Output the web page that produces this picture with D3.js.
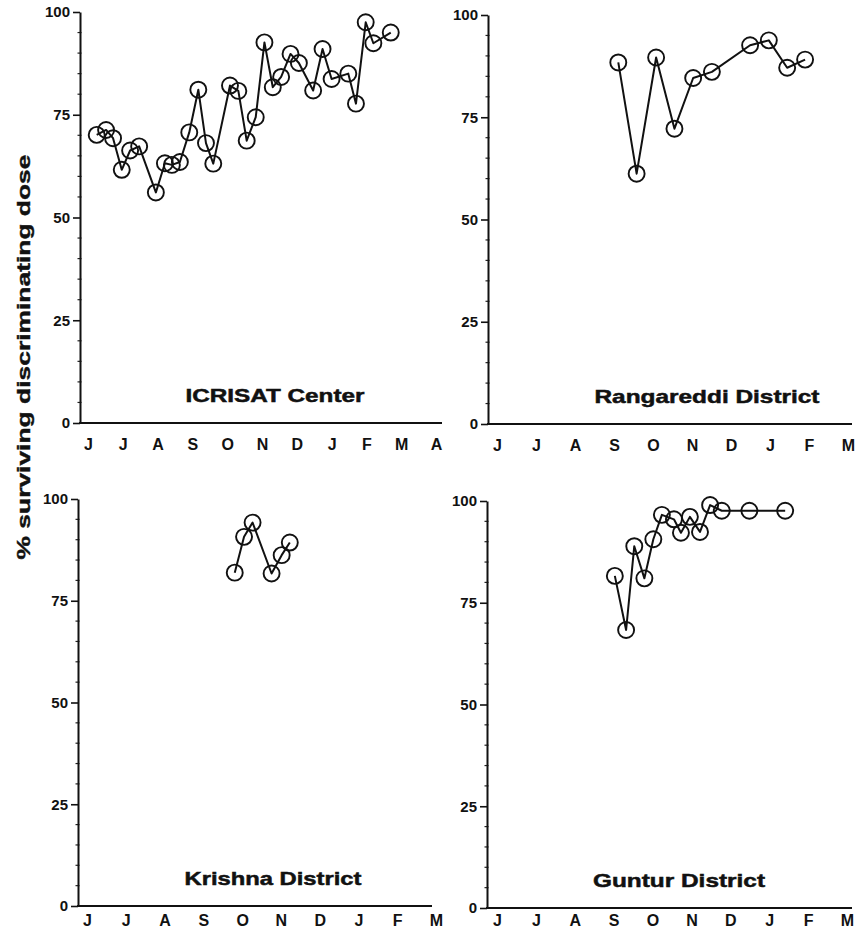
<!DOCTYPE html>
<html lang="en">
<head>
<meta charset="UTF-8">
<title>% surviving discriminating dose</title>
<script src="https://d3js.org/d3.v7.min.js"></script>
<style>
    * { margin: 0; padding: 0; }
    body { background: #fff; }
    svg { display: block; }
    text { font-family: 'Liberation Sans', Arial, Helvetica, sans-serif; font-weight: bold; fill: #111; }
</style>
</head>
<body>
<div id="chart"></div>
<script>
    // month labels along the x axes (J = June ... )
    const monthsLong = ["J", "J", "A", "S", "O", "N", "D", "J", "F", "M", "A"];
    const monthsShort = ["J", "J", "A", "S", "O", "N", "D", "J", "F", "M"];
    const yTicks = [0, 25, 50, 75, 100];

    // sampling time in months after the first "J" label, and % surviving
    const icrisatMonth = [0.25, 0.52, 0.72, 0.97, 1.21, 1.47, 1.95, 2.21, 2.41, 2.64, 2.91, 3.17, 3.39, 3.60, 4.08, 4.32,
        4.56, 4.82, 5.07, 5.31, 5.55, 5.82, 6.06, 6.47, 6.74, 7.00, 7.48, 7.70, 7.98, 8.20, 8.70];
    const icrisatPct = [70.1, 71.3, 69.3, 61.6, 66.3, 67.3, 56.1, 63.2, 62.8, 63.5, 70.7, 81.1, 68.1, 63.1, 82.1, 80.8,
        68.7, 74.4, 92.6, 81.7, 84.2, 89.8, 87.6, 80.9, 91.0, 83.7, 85.0, 77.7, 97.5, 92.4, 95.0];

    const rangareddiMonth = [3.11, 3.58, 4.08, 4.55, 5.03, 5.51, 6.49, 6.97, 7.44, 7.90];
    const rangareddiPct = [88.4, 61.2, 89.6, 72.2, 84.6, 86.1, 92.6, 93.8, 87.1, 89.1];

    const krishnaMonth = [3.81, 4.05, 4.27, 4.76, 5.02, 5.23];
    const krishnaPct = [81.9, 90.7, 94.2, 81.7, 86.2, 89.3];

    const gunturMonth = [3.03, 3.32, 3.53, 3.79, 4.02, 4.24, 4.55, 4.73, 4.96, 5.22, 5.48, 5.78, 6.49, 7.41];
    const gunturPct = [81.6, 68.3, 88.9, 81.0, 90.6, 96.6, 95.5, 92.2, 96.1, 92.4, 99.0, 97.6, 97.6, 97.6];

    const width = 859, height = 931;

    const svg = d3.select("#chart")
        .append("svg")
        .attr("width", width)
        .attr("height", height);

    // panel layout
    const panels = [
        { title: "ICRISAT Center", months: icrisatMonth, pct: icrisatPct, labels: monthsLong,
          axisX: 80, axisEnd: 442, y0: 423, y100: 12, first: 88, last: 436,
          titleX: 275, titleW: 179, labelDy: 27 },
        { title: "Rangareddi District", months: rangareddiMonth, pct: rangareddiPct, labels: monthsShort,
          axisX: 488, axisEnd: 852, y0: 424, y100: 15, first: 497, last: 848,
          titleX: 707, titleW: 225, labelDy: 27 },
        { title: "Krishna District", months: krishnaMonth, pct: krishnaPct, labels: monthsShort,
          axisX: 78, axisEnd: 432, y0: 906, y100: 499, first: 87, last: 436,
          titleX: 273, titleW: 177, labelDy: 20 },
        { title: "Guntur District", months: gunturMonth, pct: gunturPct, labels: monthsShort,
          axisX: 487, axisEnd: 852, y0: 908, y100: 501, first: 497, last: 847,
          titleX: 679, titleW: 172, labelDy: 18 }
    ];

    panels.forEach(p => {
        const x = d3.scaleLinear().domain([0, p.labels.length - 1]).range([p.first, p.last]);
        const y = d3.scaleLinear().domain([0, 100]).range([p.y0, p.y100]);
        const g = svg.append("g");

        // minor ticks every 5 %
        g.selectAll(".minor")
            .data(d3.range(5, 100, 5).filter(v => v % 25 !== 0))
            .enter()
            .append("line")
            .attr("x1", p.axisX - 2.5)
            .attr("x2", p.axisX + 1.5)
            .attr("y1", d => y(d))
            .attr("y2", d => y(d))
            .attr("stroke", "#222")
            .attr("stroke-width", 1.2);

        // y axis
        const yAxis = g.append("g")
            .attr("transform", `translate(${p.axisX},0)`)
            .call(d3.axisLeft(y).tickValues(yTicks).tickSize(7).tickSizeOuter(0).tickPadding(3));
        yAxis.select(".domain").attr("stroke", "#111").attr("stroke-width", 2);
        yAxis.selectAll(".tick line").attr("stroke", "#111").attr("stroke-width", 1.6);
        yAxis.selectAll(".tick text")
            .attr("font-size", 15)
            .attr("font-family", "'Liberation Sans', Arial, sans-serif")
            .attr("font-weight", "bold")
            .attr("fill", "#111");

        // x axis line
        g.append("line")
            .attr("x1", p.axisX - 1)
            .attr("x2", p.axisEnd)
            .attr("y1", p.y0)
            .attr("y2", p.y0)
            .attr("stroke", "#111")
            .attr("stroke-width", 2.2);

        // month labels
        const xAxis = g.append("g")
            .attr("transform", `translate(0,${p.y0})`)
            .call(d3.axisBottom(x)
                .tickValues(d3.range(p.labels.length))
                .tickFormat(i => p.labels[i])
                .tickSize(0)
                .tickPadding(0));
        xAxis.select(".domain").remove();
        xAxis.selectAll(".tick text")
            .attr("dy", null)
            .attr("y", p.labelDy)
            .attr("font-size", 16)
            .attr("font-family", "'Liberation Sans', Arial, sans-serif")
            .attr("font-weight", "bold")
            .attr("fill", "#111");

        const pts = p.months.map((m, i) => [m, p.pct[i]]);

        // connecting line
        g.append("path")
            .datum(pts)
            .attr("fill", "none")
            .attr("stroke", "#111")
            .attr("stroke-width", 2)
            .attr("stroke-linejoin", "round")
            .attr("d", d3.line().x(d => x(d[0])).y(d => y(d[1])));

        // open circle markers
        g.selectAll(".pt")
            .data(pts)
            .enter()
            .append("circle")
            .attr("cx", d => x(d[0]))
            .attr("cy", d => y(d[1]))
            .attr("r", 8)
            .attr("fill", "none")
            .attr("stroke", "#111")
            .attr("stroke-width", 1.9);

        // panel title
        g.append("text")
            .attr("x", p.titleX)
            .attr("y", p.y0 - 21)
            .attr("text-anchor", "middle")
            .attr("font-size", 19)
            .attr("stroke", "#111")
            .attr("stroke-width", 0.5)
            .attr("textLength", p.titleW)
            .attr("lengthAdjust", "spacingAndGlyphs")
            .text(p.title);
    });

    // shared y axis title
    svg.append("text")
        .attr("transform", "translate(30,357) rotate(-90)")
        .attr("text-anchor", "middle")
        .attr("font-size", 19)
        .attr("stroke", "#111")
        .attr("stroke-width", 0.4)
        .attr("textLength", 405)
        .attr("lengthAdjust", "spacingAndGlyphs")
        .text("% surviving discriminating dose");
</script>
</body>
</html>
